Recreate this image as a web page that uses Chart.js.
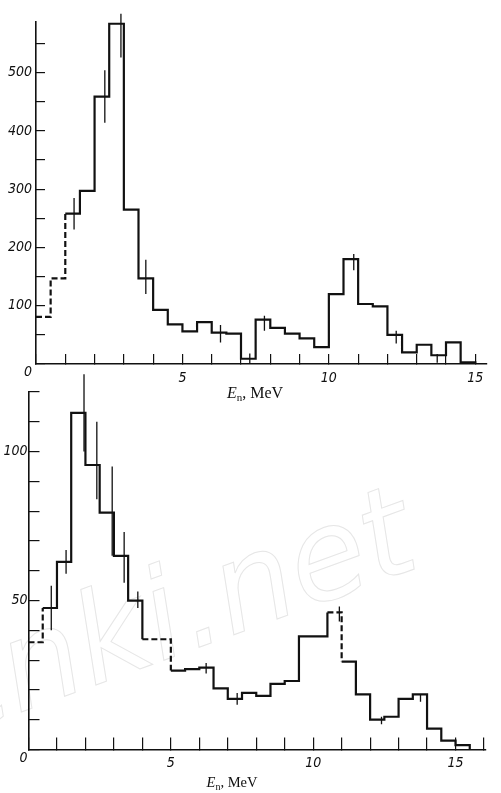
<!DOCTYPE html>
<html>
<head>
<meta charset="utf-8">
<script src="https://cdn.jsdelivr.net/npm/chart.js@4.4.1/dist/chart.umd.min.js"></script>
<style>
  html, body { margin: 0; padding: 0; background: #fff; }
  body { width: 501px; height: 793px; position: relative; overflow: hidden; }
  .wm {
    position: absolute; left: -87px; top: 628px;
    font: italic 125px "DejaVu Sans", sans-serif; line-height: 1.16;
    color: transparent; -webkit-text-stroke: 1px #e6e6e6;
    transform: rotate(-20deg); transform-origin: 0 0; white-space: nowrap;
  }
  #topChart { position: absolute; left: 0; top: 0; }
  #bottomChart { position: absolute; left: 0; top: 370px; }
</style>
</head>
<body>
<div class="wm">cnki.net</div>
<canvas id="topChart" width="501" height="410"></canvas>
<canvas id="bottomChart" width="501" height="423"></canvas>
<script>
// ===== DATA (0.5 MeV bins starting at 0) =====
const binWidth = 0.5;

const topCounts = [81, 147, 258, 297, 459, 584, 265, 147, 93, 68,
                   56, 72, 54, 52, 9, 76, 62, 52, 44, 29,
                   120, 180, 103, 99, 50, 20, 33, 15, 37, 3];
const topDashedBins = [0, 1];
const topErrX  = [1.3, 2.35, 2.9, 3.75, 6.3, 7.3, 7.8, 10.85, 12.3, 13.7];
const topErrLo = [231, 414, 526, 120, 37, 0, 57, 161, 35, 2];
const topErrHi = [285, 504, 601, 179, 67, 18, 83, 189, 57, 17];
const topXLabels = [5, 10, 15];
const topYLabels = [100, 200, 300, 400, 500];

const bottomCounts = [36, 47.5, 63, 113, 95.5, 79.5, 65, 50, 37, 37,
                      26.5, 27, 27.5, 20.5, 17, 19, 18, 22, 23, 38,
                      38, 46, 29.5, 18.5, 10, 11, 17, 18.5, 7, 3, 1.5];
const bottomDashedBins = [0, 8, 9, 21];
const bottomErrX  = [0.8, 1.32, 1.95, 2.4, 2.94, 3.36, 3.84, 6.24, 7.33, 10.92, 12.4, 13.77];
const bottomErrLo = [40, 59, 100, 84, 65, 56, 47.5, 25.5, 15, 43, 8.5, 16];
const bottomErrHi = [55, 67, 126, 110, 95, 73, 53, 29, 19, 48, 11, 18.5];
const bottomXLabels = [5, 10, 15];
const bottomYLabels = [50, 100];

const ink = "#111";
const tickFont = { family: "'DejaVu Sans Condensed', 'DejaVu Sans', sans-serif", style: "italic", size: 14 };

// histogram outline: left edge of each bin, then drop to zero at the end
function stepPoints(counts) {
  const pts = counts.map((c, i) => ({ x: i * binWidth, y: c }));
  pts.push({ x: counts.length * binWidth, y: 0 });
  return pts;
}

// vertical error bars as separate segments (null breaks the line)
function errPoints(xs, lo, hi) {
  const pts = [];
  xs.forEach((x, i) => {
    pts.push({ x, y: lo[i] }, { x, y: hi[i] }, { x, y: null });
  });
  return pts;
}

// axis title "En, MeV" with italic E and subscript n
const axisTitle = {
  id: "axisTitle",
  afterDraw(chart, args, opts) {
    const { ctx, chartArea, scales } = chart;
    const s = opts.size;
    const fE = `italic ${s}px 'Liberation Serif', serif`;
    const fSub = `${Math.round(s * 0.68)}px 'Liberation Serif', serif`;
    const fRest = `${s}px 'Liberation Serif', serif`;
    ctx.save();
    ctx.fillStyle = ink;
    ctx.textBaseline = "alphabetic";
    ctx.font = fE;   const wE = ctx.measureText("E").width;
    ctx.font = fSub; const wN = ctx.measureText("n").width;
    ctx.font = fRest; const wR = ctx.measureText(", MeV").width;
    let x = scales.x.getPixelForValue(opts.at) - (wE + wN + wR) / 2;
    const y = chartArea.bottom + opts.dy;
    ctx.font = fE;   ctx.fillText("E", x, y); x += wE;
    ctx.font = fSub; ctx.fillText("n", x, y + s * 0.18); x += wN;
    ctx.font = fRest; ctx.fillText(", MeV", x, y);
    ctx.restore();
  }
};

function makeChart(id, cfg) {
  const histData = stepPoints(cfg.counts);
  return new Chart(document.getElementById(id).getContext("2d"), {
    type: "line",
    data: {
      datasets: [
        {
          data: histData,
          stepped: "before",
          borderColor: ink,
          borderWidth: 2.2,
          pointRadius: 0,
          fill: false,
          segment: {
            borderDash: ctx => cfg.dashed.includes(ctx.p0DataIndex) ? [6, 3] : undefined
          }
        },
        {
          data: errPoints(cfg.errX, cfg.errLo, cfg.errHi),
          borderColor: ink,
          borderWidth: 1.3,
          pointRadius: 0,
          spanGaps: false,
          clip: false,
          fill: false
        }
      ]
    },
    options: {
      responsive: false,
      animation: false,
      events: [],
      layout: { autoPadding: false, padding: cfg.padding },
      plugins: {
        legend: { display: false },
        tooltip: { enabled: false },
        axisTitle: cfg.title
      },
      scales: {
        x: {
          type: "linear",
          min: 0,
          max: cfg.xMax,
          border: { display: true, color: ink, width: 1.6 },
          grid: { drawOnChartArea: false, drawTicks: true, tickLength: -cfg.xTick, color: ink, lineWidth: 1.2 },
          ticks: {
            stepSize: 1,
            includeBounds: false,
            autoSkip: false,
            maxRotation: 0,
            padding: cfg.xPad,
            color: ink,
            font: tickFont,
            callback: v => cfg.xLabels.includes(v) ? String(v) : ""
          },
          afterFit: s => { s.height = cfg.xHeight; }
        },
        y: {
          min: 0,
          max: cfg.yMax,
          border: { display: true, color: ink, width: 1.6 },
          grid: { drawOnChartArea: false, drawTicks: true, tickLength: -cfg.yTick, color: ink, lineWidth: 1.2 },
          ticks: {
            stepSize: cfg.yStep,
            includeBounds: false,
            autoSkip: false,
            padding: cfg.yPad,
            color: ink,
            font: tickFont,
            callback: v => v === 0 ? ["", "0"] : (cfg.yLabels.includes(v) ? String(v) : "")
          },
          afterFit: s => { s.width = cfg.yWidth; }
        }
      }
    },
    plugins: [axisTitle]
  });
}

makeChart("topChart", {
  counts: topCounts, dashed: topDashedBins,
  errX: topErrX, errLo: topErrLo, errHi: topErrHi,
  xLabels: topXLabels, yLabels: topYLabels,
  xMax: 15.4, yMax: 588, yStep: 50,
  padding: { top: 15, right: 14, bottom: 0, left: 0 },
  yWidth: 36, xHeight: 46,
  xTick: 10, yTick: 9, xPad: 16, yPad: 13,
  title: { at: 7.48, dy: 34, size: 16 }
});

makeChart("bottomChart", {
  counts: bottomCounts, dashed: bottomDashedBins,
  errX: bottomErrX, errLo: bottomErrLo, errHi: bottomErrHi,
  xLabels: bottomXLabels, yLabels: bottomYLabels,
  xMax: 16.05, yMax: 120, yStep: 10,
  padding: { top: 22, right: 3.5, bottom: 0, left: 0 },
  yWidth: 28.5, xHeight: 43.5,
  xTick: 12, yTick: 11, xPad: 17, yPad: 12,
  title: { at: 7.15, dy: 37.5, size: 14.5 }
});
</script>
</body>
</html>
